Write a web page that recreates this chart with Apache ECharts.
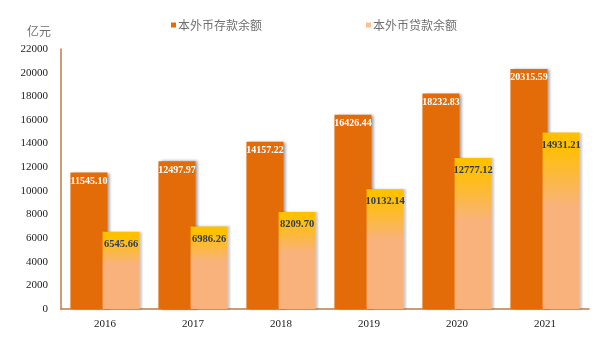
<!DOCTYPE html>
<html>
<head>
<meta charset="utf-8">
<script src="https://cdn.jsdelivr.net/npm/echarts@6/dist/echarts.min.js"></script>
<style>html,body{margin:0;padding:0;background:#fff}#c{width:604px;height:340px}</style>
</head>
<body>
<div id="c"></div>
<script>
var years = ['2016', '2017', '2018', '2019', '2020', '2021'];
var deposits = [11545.10, 12497.97, 14157.22, 16426.44, 18232.83, 20315.59];
var loans = [6545.66, 6986.26, 8209.70, 10132.14, 12777.12, 14931.21];
var seriesNames = ['本外币存款余额', '本外币贷款余额'];
var yTicks = {min: 0, max: 22000, interval: 2000};

var chart = echarts.init(document.getElementById('c'), null, {renderer: 'canvas'});
var serif = '"Liberation Serif", "Times New Roman", serif';
var cjk = '"Noto Sans CJK SC", sans-serif';
var fmt = function (p) { return p.value.toFixed(2); };
chart.setOption({
  animation: false,
  backgroundColor: '#fff',
  grid: {left: 61, right: 15, top: 49, bottom: 31, containLabel: false},
  legend: {
    left: 166, top: 14,
    itemWidth: 5, itemHeight: 5, itemGap: 104,
    icon: 'rect',
    textStyle: {fontFamily: cjk, fontSize: 12, color: '#6F6F6F', padding: [0, 0, 0, -3]},
    data: [
      {name: seriesNames[0], itemStyle: {color: '#E36C09'}},
      {name: seriesNames[1], itemStyle: {color: '#FAC090'}}
    ]
  },
  xAxis: {
    type: 'category',
    data: years,
    axisLine: {lineStyle: {color: '#BF7B45', width: 1.5}},
    axisTick: {show: false},
    axisLabel: {fontFamily: serif, fontSize: 11, color: '#222', margin: 10}
  },
  yAxis: {
    type: 'value',
    min: yTicks.min, max: yTicks.max, interval: yTicks.interval,
    name: '亿元',
    nameLocation: 'end',
    nameGap: 12,
    nameTextStyle: {fontFamily: cjk, fontSize: 12, color: '#6F6F6F', align: 'right', padding: [0, 10, 0, 0]},
    axisLine: {show: true, lineStyle: {color: '#BF7B45', width: 1.5}},
    axisTick: {show: false},
    splitLine: {show: false},
    axisLabel: {fontFamily: serif, fontSize: 11, color: '#222', margin: 13, formatter: function (v) { return String(v); }}
  },
  series: [
    {
      name: seriesNames[0],
      type: 'bar',
      data: deposits,
      barWidth: 37,
      barGap: '-13%',
      itemStyle: {
        color: '#E36C09',
        shadowColor: 'rgba(0,0,0,0.4)', shadowBlur: 3, shadowOffsetX: 3, shadowOffsetY: 0
      },
      label: {
        show: true, position: 'insideTop', distance: 4,
        formatter: fmt,
        fontFamily: serif, fontSize: 10, fontWeight: 'bold', color: '#fff'
      },
      z: 2
    },
    {
      name: seriesNames[1],
      type: 'bar',
      data: loans,
      barWidth: 37,
      itemStyle: {
        color: new echarts.graphic.LinearGradient(0, 0, 0, 1, [
          {offset: 0, color: '#FFC000'},
          {offset: 0.07, color: '#FFC000'},
          {offset: 0.42, color: '#F9B27C'},
          {offset: 1, color: '#F9B27C'}
        ]),
        shadowColor: 'rgba(0,0,0,0.2)', shadowBlur: 2, shadowOffsetX: 2, shadowOffsetY: 0
      },
      label: {
        show: true, position: 'insideTop', distance: 7,
        formatter: fmt,
        fontFamily: serif, fontSize: 10.5, fontWeight: 'bold', color: '#2E3A59'
      },
      z: 3
    }
  ]
});
</script>
</body>
</html>
